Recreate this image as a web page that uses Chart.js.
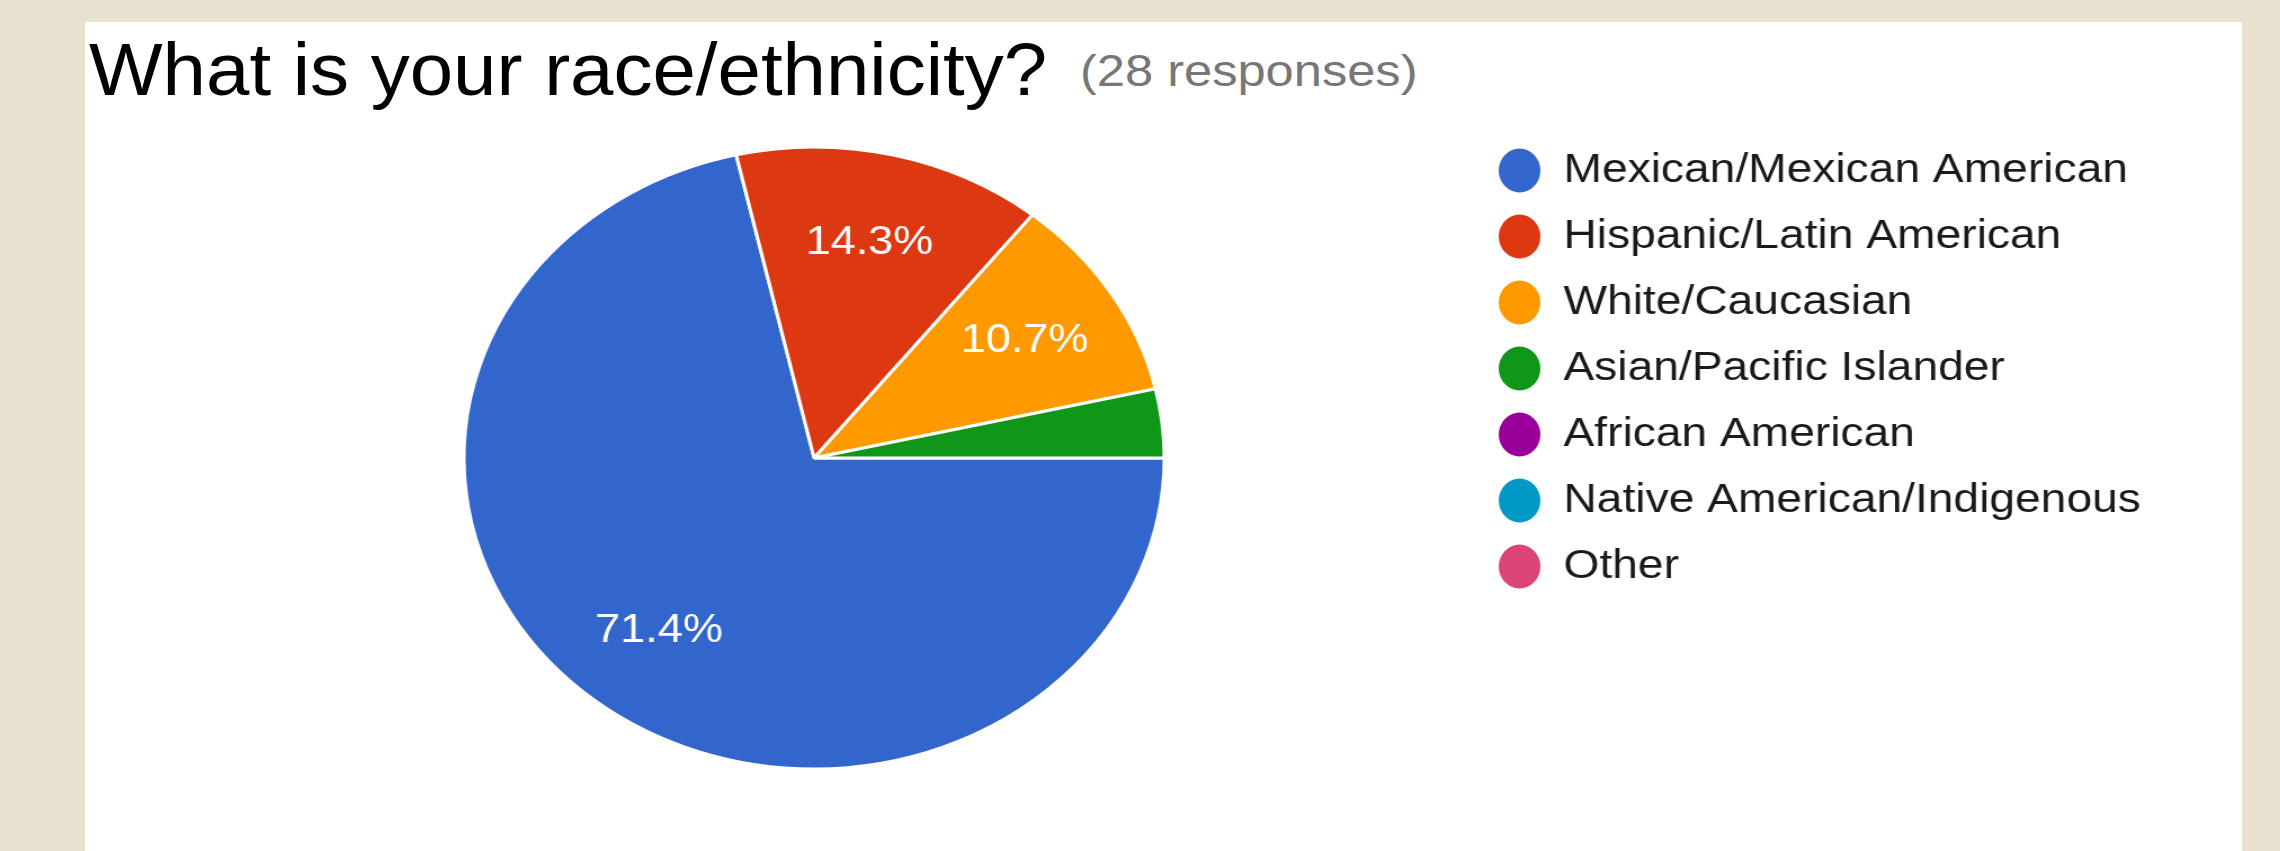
<!DOCTYPE html>
<html lang="en">
<head>
    <meta charset="UTF-8">
    <title>What is your race/ethnicity?</title>
    <style>
        html, body {
            margin: 0;
            padding: 0;
            width: 2280px;
            height: 851px;
            overflow: hidden;
            background: #e9e1cf;
            font-family: "Liberation Sans", Arial, sans-serif;
        }
        #panel {
            position: absolute;
            left: 85px;
            top: 22px;
            width: 2157px;
            height: 829px;
            background: #ffffff;
        }
        .title {
            position: absolute;
            left: 89px;
            top: 32px;
            font-size: 75px;
            line-height: 1;
            color: #000;
            white-space: nowrap;
            transform: scaleX(1.04);
            transform-origin: 0 0;
        }
        .count {
            position: absolute;
            left: 1080px;
            top: 49px;
            font-size: 44px;
            line-height: 1;
            color: #777;
            white-space: nowrap;
            transform: scaleX(1.15);
            transform-origin: 0 0;
        }
        #wrap {
            position: absolute;
            left: 0;
            top: 0;
            transform: scaleX(1.126);
            transform-origin: 0 0;
        }
    </style>
</head>
<body>
    <div id="panel"></div>
    <div class="title">What is your race/ethnicity?</div>
    <div class="count">(28 responses)</div>
    <div id="wrap">
        <canvas id="myChart" width="2025" height="851"></canvas>
    </div>

    <script src="https://cdn.jsdelivr.net/npm/chart.js"></script>
    <script>
        const categories = [
            'Mexican/Mexican American',
            'Hispanic/Latin American',
            'White/Caucasian',
            'Asian/Pacific Islander',
            'African American',
            'Native American/Indigenous',
            'Other'
        ];
        const responses = [20, 4, 3, 1, 0, 0, 0];
        const sliceColors = ['#3366cc', '#dc3912', '#ff9900', '#109618', '#990099', '#0099c6', '#dd4477'];

        // canvas is stretched by 1.126 horizontally, so work in unstretched units here
        const W = 2025;
        const legendFont = 41;
        const boxSize = 31;
        const dotWidth = 37;
        const rowGap = 25;
        const legendLeft = 1306;
        const pieX = 723;
        const pieY = 458;

        const measure = document.createElement('canvas').getContext('2d');
        measure.font = legendFont + 'px "Liberation Sans", Arial';
        const longest = Math.max(...categories.map(c => measure.measureText(c).width));
        const legendWidth = rowGap + dotWidth + legendFont / 2 + longest + 10;
        const padRight = W - legendLeft - legendWidth;
        const padTop = 170.5 - legendFont / 2 - rowGap;
        const padLeft = 2 * pieX - legendLeft;
        const padBottom = 851 - (2 * pieY - padTop);

        const percentLabels = {
            id: 'percentLabels',
            afterDatasetsDraw(chart) {
                const meta = chart.getDatasetMeta(0);
                const values = chart.data.datasets[0].data;
                const total = values.reduce((a, b) => a + b, 0);
                const ctx = chart.ctx;
                ctx.save();
                ctx.fillStyle = '#ffffff';
                ctx.font = '40px "Liberation Sans", Arial';
                ctx.textAlign = 'center';
                ctx.textBaseline = 'middle';
                meta.data.forEach((arc, i) => {
                    const share = values[i] / total;
                    if (share < 0.05) return;
                    const mid = (arc.startAngle + arc.endAngle) / 2;
                    const r = arc.outerRadius * 0.71;
                    ctx.fillText((share * 100).toFixed(1) + '%', arc.x + Math.cos(mid) * r, arc.y + Math.sin(mid) * r);
                });
                ctx.restore();
            }
        };

        const ctx = document.getElementById('myChart').getContext('2d');
        new Chart(ctx, {
            type: 'pie',
            data: {
                labels: categories,
                datasets: [{
                    data: responses,
                    backgroundColor: sliceColors,
                    borderColor: '#ffffff',
                    borderWidth: 3,
                    radius: 311
                }]
            },
            options: {
                responsive: false,
                animation: false,
                rotation: 90,
                layout: {
                    padding: { top: padTop, bottom: padBottom, left: padLeft, right: padRight }
                },
                plugins: {
                    tooltip: { enabled: false },
                    legend: {
                        position: 'right',
                        align: 'start',
                        labels: {
                            usePointStyle: true,
                            pointStyle: 'circle',
                            pointStyleWidth: dotWidth,
                            boxWidth: boxSize,
                            boxHeight: boxSize,
                            padding: rowGap,
                            color: '#1a1a1a',
                            font: { size: legendFont, family: '"Liberation Sans", Arial' },
                            generateLabels(chart) {
                                const items = Chart.overrides.pie.plugins.legend.labels.generateLabels(chart);
                                items.forEach(it => {
                                    it.lineWidth = 0;
                                    it.strokeStyle = it.fillStyle;
                                    it.hidden = false;
                                });
                                return items;
                            }
                        }
                    }
                }
            },
            plugins: [percentLabels]
        });
    </script>
</body>
</html>
